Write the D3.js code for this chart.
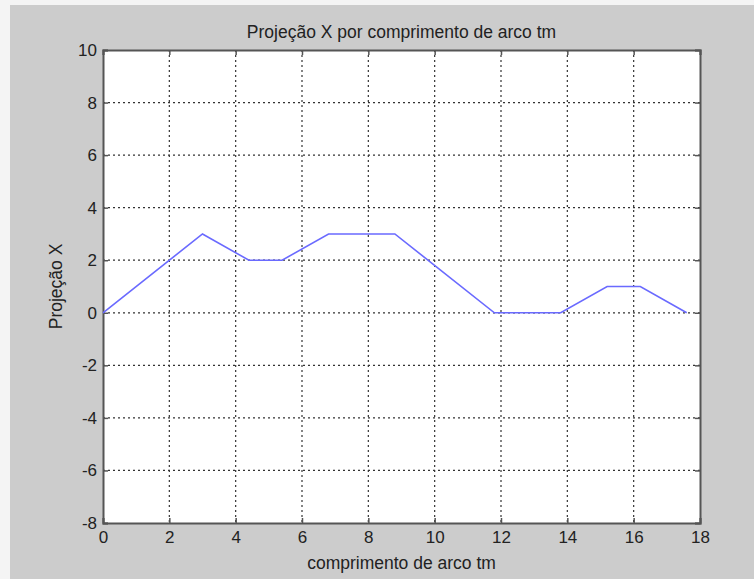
<!DOCTYPE html>
<html>
  <head>
    <meta charset="utf-8">
    <title>Projeção X</title>
    <script type="text/javascript" src="https://d3js.org/d3.v7.min.js"></script>
    <style>
      body { margin:0; background:#ffffff; }
      text { font-family: "Liberation Sans", Arial, sans-serif; fill:#222; }
    </style>
  </head>
  <body>
    <svg width="754" height="579"></svg>
    <script>
      // dados
      var arco = [0, 3, 4.4, 5.4, 6.8, 8.8, 11.8, 13.8, 15.2, 16.2, 17.6];
      var projX = [0, 3, 2, 2, 3, 3, 0, 0, 1, 1, 0];
      var xTicks = [0, 2, 4, 6, 8, 10, 12, 14, 16, 18];
      var yTicks = [-8, -6, -4, -2, 0, 2, 4, 6, 8, 10];

      var marge = {top:50, bottom:56, left:103, right:54};
      var svg = d3.select("svg");
      var width = +svg.attr("width");
      var height = +svg.attr("height");
      var w = width - marge.left - marge.right;
      var h = height - marge.top - marge.bottom;

      svg.append("rect").attr("width", width).attr("height", height).attr("fill", "#f4f4f4");
      svg.append("rect").attr("x", 10).attr("y", 5)
        .attr("width", width - 10).attr("height", height - 5).attr("fill", "#cccccc");

      var x = d3.scaleLinear().domain([0, 18]).range([0, w]);
      var y = d3.scaleLinear().domain([-8, 10]).range([h, 0]);

      var g = svg.append("g")
        .attr("transform", "translate(" + marge.left + "," + marge.top + ")");

      g.append("rect").attr("width", w).attr("height", h).attr("fill", "white");

      // grade pontilhada
      g.append("g").selectAll("line").data(xTicks.slice(1, -1)).enter().append("line")
        .attr("x1", function(d){ return x(d); }).attr("x2", function(d){ return x(d); })
        .attr("y1", 0).attr("y2", h)
        .attr("stroke", "#333").attr("stroke-width", 1.2).attr("stroke-dasharray", "2,3");
      g.append("g").selectAll("line").data(yTicks.slice(1, -1)).enter().append("line")
        .attr("y1", function(d){ return y(d); }).attr("y2", function(d){ return y(d); })
        .attr("x1", 0).attr("x2", w)
        .attr("stroke", "#333").attr("stroke-width", 1.2).attr("stroke-dasharray", "2,3");

      var fmt = function(d){ return String(d); }; // hífen simples, como no original

      // eixos
      var xAxis = g.append("g").attr("transform", "translate(0," + h + ")")
        .call(d3.axisBottom(x).tickValues(xTicks).tickSize(-5).tickPadding(6).tickFormat(fmt));
      var xTop = g.append("g")
        .call(d3.axisTop(x).tickValues(xTicks).tickSize(-5).tickFormat(""));
      var yAxis = g.append("g")
        .call(d3.axisLeft(y).tickValues(yTicks).tickSize(-5).tickPadding(6).tickFormat(fmt));
      var yRight = g.append("g").attr("transform", "translate(" + w + ",0)")
        .call(d3.axisRight(y).tickValues(yTicks).tickSize(-5).tickFormat(""));

      [xAxis, xTop, yAxis, yRight].forEach(function(a){
        a.select(".domain").attr("stroke", "#555").attr("stroke-width", 2);
        a.selectAll(".tick line").attr("stroke", "#555").attr("stroke-width", 1.5);
        a.selectAll("text").attr("font-size", 17).attr("fill", "#222")
          .style("font-family", "'Liberation Sans', Arial, sans-serif");
      });
      xAxis.selectAll("text").attr("dy", "0.85em");

      // linha
      var pts = arco.map(function(d, i){ return [d, projX[i]]; });
      g.append("path").datum(pts)
        .attr("fill", "none")
        .attr("stroke", "#6a6aff")
        .attr("stroke-width", 1.6)
        .attr("d", d3.line().x(function(d){ return x(d[0]); }).y(function(d){ return y(d[1]); }));

      // textos
      svg.append("text").attr("x", marge.left + w / 2).attr("y", 38)
        .attr("text-anchor", "middle").attr("font-size", 17.5)
        .text("Projeção X por comprimento de arco tm");
      svg.append("text").attr("x", marge.left + w / 2).attr("y", 569)
        .attr("text-anchor", "middle").attr("font-size", 17.5)
        .text("comprimento de arco tm");
      svg.append("text")
        .attr("transform", "translate(62," + (marge.top + h / 2) + ") rotate(-90)")
        .attr("text-anchor", "middle").attr("font-size", 17.5)
        .text("Projeção X");
    </script>
  </body>
</html>
